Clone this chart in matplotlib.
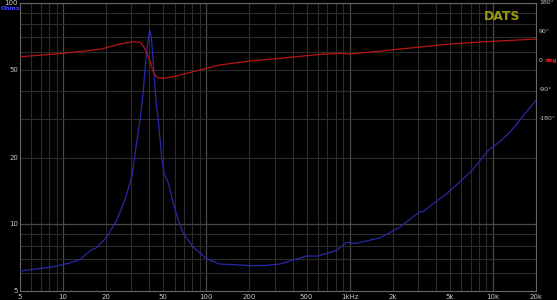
import matplotlib
matplotlib.use('Agg')
import matplotlib.pyplot as plt
from matplotlib.ticker import NullFormatter, LogLocator

plt.rcParams["font.family"] = ["DejaVu Sans"]

# impedance magnitude (Ohms) vs frequency (Hz)
imp_freq = [5, 8.5, 11.2, 13.1, 14.2, 15.6, 17.2, 20.2, 23.6, 27, 30.3, 32.8, 34.4,
            36.3, 37.2, 38.5, 39.5, 40.4, 41.3, 42.5, 44.4, 46.2, 48.8, 50.7, 54.2,
            58.9, 63.8, 69, 81, 100, 123.6, 153, 211, 262, 326, 503, 591, 815, 950,
            1100, 1630, 2250, 2760, 3100, 3260, 3830, 4720, 5840, 7200, 9300, 11500,
            13500, 20000]
imp_ohms = [6.15, 6.43, 6.70, 6.94, 7.25, 7.65, 7.85, 8.78, 10.4, 12.9, 16.6, 24, 29.5,
            40, 49.8, 62, 71, 75, 70, 55, 36.4, 29.5, 19.9, 17.0, 15.4,
            12.4, 10.4, 9.1, 7.9, 7.0, 6.62, 6.58, 6.5, 6.53, 6.62, 7.2, 7.18, 7.64, 8.3,
            8.2, 8.7, 9.72, 10.8, 11.4, 11.4, 12.4, 13.7, 15.5, 17.6, 21.6, 24,
            26.6, 36.4]

# impedance phase (deg) vs frequency (Hz)
ph_freq = [5, 10, 18.1, 25, 30.7, 34.4, 36.3, 38.4, 40.4, 42.6, 45, 50, 58.9, 72.9,
           90, 123.6, 200, 326, 621, 855, 1000, 1640, 2250, 5000, 8100, 20000]
ph_deg = [11.9, 22.5, 35.1, 51.7, 58.9, 57, 45.4, 23.5, -3.8, -35, -52.6, -55.7, -50.7, -40,
          -29.7, -14, -1.6, 6.9, 19.4, 22.5, 20.3, 29.7, 36, 51.7, 57.9, 67.3]

x_ticks = [5, 10, 20, 50, 100, 200, 500, 1000, 2000, 5000, 10000, 20000]
x_labels = ["5", "10", "20", "50", "100", "200", "500", "1kHz", "2k", "5k", "10k", "20k"]
y_ticks = [5, 10, 20, 50, 100]
ph_ticks = [180, 90, 0, -90, -180]
ph_labels = ["180°", "90°", "0", "-90°", "-180°"]

label_col = '#c8c8c8'

fig = plt.figure(figsize=(5.57, 3.0), dpi=100, facecolor='black')
ax = fig.add_axes([20 / 557, 9 / 300, 516 / 557, 288 / 300], facecolor='black')
ax.set_xscale('log')
ax.set_yscale('log')
ax.set_xlim(5, 20000)
ax.set_ylim(5, 100)

ax.xaxis.set_major_locator(LogLocator(base=10, subs=(1.0,)))
ax.xaxis.set_minor_locator(LogLocator(base=10, subs=range(2, 10)))
ax.yaxis.set_major_locator(LogLocator(base=10, subs=(1.0,)))
ax.yaxis.set_minor_locator(LogLocator(base=10, subs=range(2, 10)))
ax.xaxis.set_major_formatter(NullFormatter())
ax.xaxis.set_minor_formatter(NullFormatter())
ax.yaxis.set_major_formatter(NullFormatter())
ax.yaxis.set_minor_formatter(NullFormatter())
ax.grid(True, which='major', color='#484848', linewidth=0.9)
ax.grid(True, which='minor', color='#2c2c2c', linewidth=0.8)
ax.tick_params(which='both', length=0)
for s in ax.spines.values():
    s.set_color('#666666')
    s.set_linewidth(0.8)

ax.plot(imp_freq, imp_ohms, color='#2828a8', linewidth=0.9, zorder=3)

# tick labels drawn as text, like the analyser does
for f, lab in zip(x_ticks, x_labels):
    ax.text(f, -0.01, lab, transform=ax.get_xaxis_transform(), ha='center', va='top',
            fontsize=5, color=label_col, clip_on=False)
for v in y_ticks:
    ax.text(-0.004, v, str(v), transform=ax.get_yaxis_transform(), ha='right', va='center',
            fontsize=5, color=label_col, clip_on=False)
fig.text(1 / 557, 1 - 6 / 300, "Ohms", ha='left', va='top',
         fontsize=4.4, color='#4040ff', fontweight='bold')

# phase axis: 180..-180 spans only the upper part of the plot
ax2 = ax.twinx()
ax2.set_ylim(-721, 180)
ax2.set_yticks([])
for s in ax2.spines.values():
    s.set_visible(False)
ax2.plot(ph_freq, ph_deg, color='#b81414', linewidth=0.9, zorder=3)
for v, lab in zip(ph_ticks, ph_labels):
    ax2.text(1.006, v, lab, transform=ax2.get_yaxis_transform(), ha='left', va='center',
             fontsize=4.5, color=label_col, clip_on=False)
ax2.text(1.0165, 0, "deg", transform=ax2.get_yaxis_transform(), ha='left', va='center',
         fontsize=4.3, color='#e02020', fontweight='bold', clip_on=False)

ax.text(0.97, 0.975, "DATS", transform=ax.transAxes, ha='right', va='top',
        fontsize=9, color='#9a9a10', fontweight='bold')

fig.savefig("out.png", dpi=100, facecolor='black')
